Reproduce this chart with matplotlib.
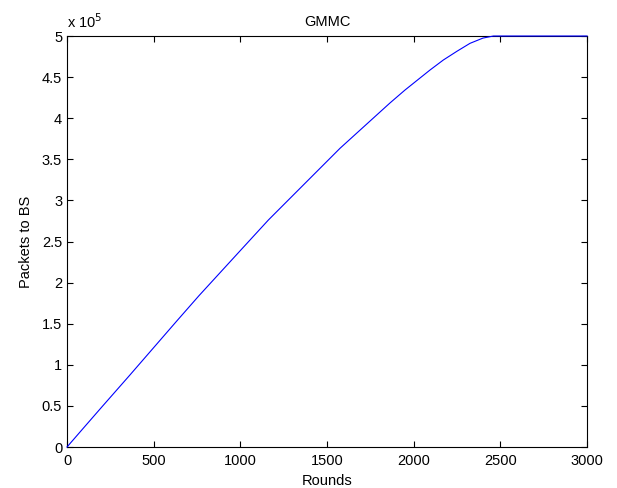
import numpy as np
import matplotlib
matplotlib.use("Agg")
import matplotlib.pyplot as plt

# values
rounds = [0, 100, 200, 363, 632, 761, 1000, 1162, 1277, 1575, 1863, 1950, 2094, 2171,
          2250, 2325, 2400, 2460, 3000]
packets = [0, 24300, 48500, 87600, 153000, 184000, 239000, 276200, 300500, 363400, 418500,
           434300, 458600, 470800, 481500, 491100, 497500, 500000, 500000]

plt.rcParams['font.family'] = ['Liberation Sans', 'DejaVu Sans']
plt.rcParams['font.size'] = 10.5

fig = plt.figure(figsize=(6.17, 4.88), dpi=100)
ax = fig.add_axes([0.1086, 0.084, 0.8428, 0.8422])

ax.plot(rounds, np.array(packets) / 1e5, color='blue', linewidth=0.8, clip_on=False, zorder=5)

ax.set_xlim(0, 3000)
ax.set_ylim(0, 5)
ax.set_xticks([0, 500, 1000, 1500, 2000, 2500, 3000])
ax.set_yticks([0, 0.5, 1, 1.5, 2, 2.5, 3, 3.5, 4, 4.5, 5])
ax.set_yticklabels(['0', '0.5', '1', '1.5', '2', '2.5', '3', '3.5', '4', '4.5', '5'])
ax.tick_params(direction='in', top=True, right=True, length=4, width=0.8)
ax.tick_params(axis='x', pad=5)
ax.tick_params(axis='y', pad=3.5)
for s in ax.spines.values():
    s.set_linewidth(0.8)

ax.set_xlabel('Rounds', labelpad=4)
ax.set_ylabel('Packets to BS', labelpad=6)
ax.set_title('GMMC', fontsize=10.5, pad=7)
ax.text(0.0, 1.012, r'x 10$^{5}$', transform=ax.transAxes, ha='left', va='bottom')

fig.savefig('out.png', dpi=100)
